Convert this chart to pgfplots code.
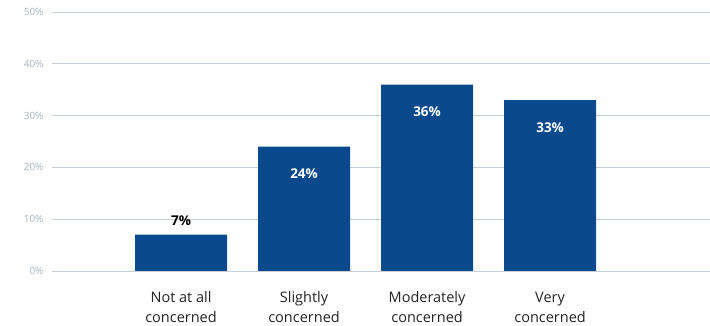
\documentclass[border=0pt]{standalone}
\usepackage{pgfplots}
\pgfplotsset{compat=1.18}
\usepackage{fontspec}
\setmainfont{Open Sans}
\definecolor{barblue}{RGB}{10,74,140}
\definecolor{gridgray}{RGB}{200,206,214}
\definecolor{ticklab}{RGB}{165,178,192}
\definecolor{labtxt}{RGB}{35,35,35}
\begin{document}
\begin{tikzpicture}
\begin{axis}[
  scale only axis,
  width=658pt, height=259pt,
  xmin=-1.049, xmax=4.30,
  ymin=0, ymax=50,
  ytick={0,10,20,30,40,50},
  yticklabel={\pgfmathprintnumber{\tick}\%},
  /pgf/number format/assume math mode=true,
  yticklabel style={font=\fontsize{10}{11}\selectfont, text=ticklab, xshift=-5pt},
  xtick={0,1,2,3},
  xticklabels={\strut Not at all\\\strut concerned, \strut Slightly\\\strut concerned, \strut Moderately\\\strut concerned, \strut Very\\\strut concerned},
  xticklabel style={font=\fontsize{14.5}{20}\selectfont, text=labtxt, align=center, anchor=north, yshift=-14pt},
  major tick length=0pt,
  axis line style={draw=none},
  ymajorgrids,
  grid style={gridgray, line width=0.9pt},
  clip=false,
]
\addplot[ybar, bar width=92pt, fill=barblue, draw=none] coordinates {(0,7) (1,24) (2,36) (3,33)};
\node[font=\bfseries\fontsize{13.5}{15}\selectfont, text=black, anchor=south] at (axis cs:0,7) [yshift=6pt] {7\%};
\node[font=\bfseries\fontsize{13.5}{15}\selectfont, text=white, anchor=north] at (axis cs:1,24) [yshift=-19pt] {24\%};
\node[font=\bfseries\fontsize{13.5}{15}\selectfont, text=white, anchor=north] at (axis cs:2,36) [yshift=-19pt] {36\%};
\node[font=\bfseries\fontsize{13.5}{15}\selectfont, text=white, anchor=north] at (axis cs:3,33) [yshift=-19pt] {33\%};
\end{axis}
\pgfresetboundingbox
\path ([shift={(-52pt,-55pt)}]current axis.south west) rectangle ([shift={(0pt,12pt)}]current axis.north east);
\end{tikzpicture}
\end{document}
